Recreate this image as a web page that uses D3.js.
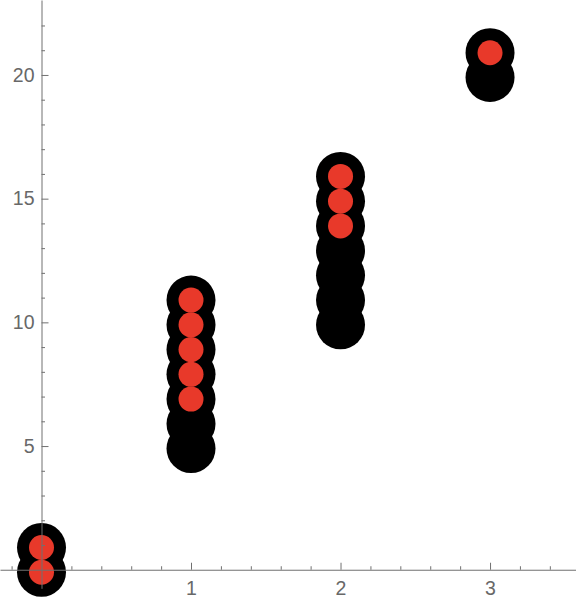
<!DOCTYPE html>
<meta charset="utf-8">
<style>
body { margin: 0; background: #fff; }
text { font-family: 'Liberation Sans', Arial, sans-serif; font-size: 19.5px; fill: #686868; }
.axis path, .axis line { stroke: #707070; stroke-width: 1px; }
</style>
<body>
<svg width="576" height="600"></svg>
<script src="https://d3js.org/d3.v7.min.js"></script>
<script>

// big black points
var blackX = [0, 0, 1, 1, 1, 1, 1, 1, 1, 2, 2, 2, 2, 2, 2, 2, 3, 3];
var blackY = [0, 1, 5, 6, 7, 8, 9, 10, 11, 10, 11, 12, 13, 14, 15, 16, 20, 21];

// small red points
var redX = [0, 0, 1, 1, 1, 1, 1, 2, 2, 2, 3];
var redY = [0, 1, 7, 8, 9, 10, 11, 14, 15, 16, 21];

var xTicks = [1, 2, 3];
var yTicks = [5, 10, 15, 20];

var svg = d3.select("svg"),
    width = +svg.attr("width");

var x = d3.scaleLinear()
    .domain([-0.2776, 3.575])
    .range([0, width]);

var y = d3.scaleLinear()
    .domain([-0.75, 23.03])
    .range([588.3, 0]);

var xMinor = d3.range(-1, 18).map(function(i) { return i / 5; })
    .filter(function(d) { return Math.abs(d - Math.round(d)) > 1e-6; });
var yMinor = d3.range(1, 23).filter(function(d) { return d % 5 !== 0; });

var pts = svg.append("g").attr("transform", "translate(0,2.5)");

pts.selectAll(".black")
  .data(d3.zip(blackX, blackY))
  .enter().append("circle")
    .attr("class", "black")
    .attr("cx", function(d) { return x(d[0]); })
    .attr("cy", function(d) { return y(d[1]); })
    .attr("r", 24.5)
    .style("fill", "#000");

pts.selectAll(".red")
  .data(d3.zip(redX, redY))
  .enter().append("circle")
    .attr("class", "red")
    .attr("cx", function(d) { return x(d[0]); })
    .attr("cy", function(d) { return y(d[1]); })
    .attr("r", 12.5)
    .style("fill", "#e8392a");

// minor ticks
svg.append("g")
    .attr("class", "axis")
    .attr("transform", "translate(0," + y(0) + ")")
    .call(d3.axisBottom(x).tickValues(xMinor).tickSizeInner(-3.5).tickSizeOuter(0).tickFormat(""))
    .select(".domain").remove();

svg.append("g")
    .attr("class", "axis")
    .attr("transform", "translate(" + x(0) + ",0)")
    .call(d3.axisLeft(y).tickValues(yMinor).tickSizeInner(-3.5).tickSizeOuter(0).tickFormat(""))
    .select(".domain").remove();

// major axes
var gx = svg.append("g")
    .attr("class", "axis")
    .attr("transform", "translate(0," + y(0) + ")")
    .call(d3.axisBottom(x).tickValues(xTicks).tickSizeInner(-7).tickSizeOuter(0).tickPadding(11).tickFormat(d3.format("d")));

var gy = svg.append("g")
    .attr("class", "axis")
    .attr("transform", "translate(" + x(0) + ",0)")
    .call(d3.axisLeft(y).tickValues(yTicks).tickSizeInner(-7).tickSizeOuter(0).tickPadding(7).tickFormat(d3.format("d")));

svg.selectAll(".axis text")
    .attr("font-family", null)
    .attr("font-size", null)
    .attr("fill", null);

</script>
